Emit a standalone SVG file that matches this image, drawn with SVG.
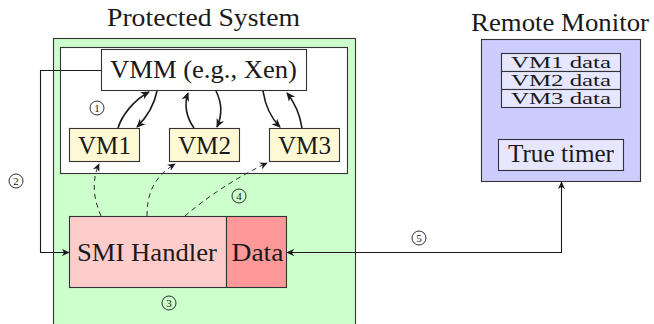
<svg xmlns="http://www.w3.org/2000/svg" width="654" height="324" viewBox="0 0 654 324">
  <style>
    text { font-family: "Liberation Serif", "DejaVu Serif", serif; fill: #1a1a1a; text-anchor: middle; }
    .t { font-size: 25px; }
    .s { font-size: 16px; }
    .n { font-size: 11px; }
    .box { stroke: #333; stroke-width: 1.1; }
    .ring { fill: none; stroke: #1a1a1a; stroke-width: 0.9; }
    .wire { fill: none; stroke: #1a1a1a; stroke-width: 1.1; }
    .ctl { fill: none; stroke: #1a1a1a; stroke-width: 1.6; }
    .dash { fill: none; stroke: #1a1a1a; stroke-width: 0.9; stroke-dasharray: 5 4; }
  </style>
  <defs>
    <marker id="head" viewBox="0 0 10 10" refX="9" refY="5" markerWidth="8" markerHeight="8" markerUnits="userSpaceOnUse" orient="auto-start-reverse">
      <path d="M0,0.5 L10,5 L0,9.5 L3,5 Z" fill="#1a1a1a"/>
    </marker>
    <marker id="headbig" viewBox="0 0 10 10" refX="9" refY="5" markerWidth="9" markerHeight="9" markerUnits="userSpaceOnUse" orient="auto">
      <path d="M0,0.5 L10,5 L0,9.5 L3,5 Z" fill="#1a1a1a"/>
    </marker>
  </defs>

  <!-- protected system -->
  <g id="protected-system">
    <text class="t" x="203.5" y="26" textLength="193" lengthAdjust="spacingAndGlyphs">Protected System</text>
    <rect class="box" x="53.5" y="38.5" width="302" height="290" fill="#ccffcc" stroke="#222"/>
    <rect class="box" x="60.5" y="47.5" width="287" height="126" fill="#ffffff" stroke="#222"/>
  </g>

  <g id="vmm">
    <rect class="box" x="101.5" y="49.5" width="205" height="41" fill="#ffffff"/>
    <text class="t" x="203.5" y="78" textLength="187" lengthAdjust="spacingAndGlyphs">VMM (e.g., Xen)</text>
  </g>

  <g id="vm1">
    <rect class="box" x="69.5" y="128.5" width="70" height="33" fill="#fff9d6"/>
    <text class="t" x="104.5" y="154" textLength="53" lengthAdjust="spacingAndGlyphs">VM1</text>
  </g>
  <g id="vm2">
    <rect class="box" x="169.5" y="128.5" width="70" height="33" fill="#fff9d6"/>
    <text class="t" x="204.5" y="154" textLength="53" lengthAdjust="spacingAndGlyphs">VM2</text>
  </g>
  <g id="vm3">
    <rect class="box" x="269.5" y="128.5" width="70" height="33" fill="#fff9d6"/>
    <text class="t" x="304.5" y="154" textLength="53" lengthAdjust="spacingAndGlyphs">VM3</text>
  </g>

  <g id="smi-handler">
    <rect class="box" x="69.5" y="216.5" width="157" height="71" fill="#ffcccc"/>
    <text class="t" x="147" y="261" textLength="140" lengthAdjust="spacingAndGlyphs">SMI Handler</text>
  </g>
  <g id="data">
    <rect class="box" x="226.5" y="216.5" width="60" height="71" fill="#ff9999"/>
    <text class="t" x="257.5" y="261" textLength="52" lengthAdjust="spacingAndGlyphs">Data</text>
  </g>

  <!-- remote monitor -->
  <g id="remote-monitor">
    <text class="t" x="560" y="31" textLength="178" lengthAdjust="spacingAndGlyphs">Remote Monitor</text>
    <rect class="box" x="481.5" y="39.5" width="159" height="142" fill="#ccccff"/>
    <rect class="box" x="501.5" y="53.5" width="119" height="18" fill="#e6e6ff"/>
    <rect class="box" x="501.5" y="71.5" width="119" height="18" fill="#e6e6ff"/>
    <rect class="box" x="501.5" y="89.5" width="119" height="18" fill="#e6e6ff"/>
    <text class="s" x="561" y="68" textLength="100" lengthAdjust="spacingAndGlyphs">VM1 data</text>
    <text class="s" x="561" y="86" textLength="100" lengthAdjust="spacingAndGlyphs">VM2 data</text>
    <text class="s" x="561" y="104" textLength="100" lengthAdjust="spacingAndGlyphs">VM3 data</text>
  </g>
  <g id="true-timer">
    <rect class="box" x="498.5" y="139.5" width="125" height="31" fill="#e6e6ff"/>
    <text class="t" x="561" y="162" textLength="106" lengthAdjust="spacingAndGlyphs">True timer</text>
  </g>

  <!-- connectors -->
  <g id="connectors">
    <!-- VMM <-> VMs control transfers -->
    <path class="ctl" d="M118,128 C122,115 134,100 149,92" marker-end="url(#headbig)"/>
    <path class="ctl" d="M157,91 C154,106 146,118 137,127" marker-end="url(#headbig)"/>
    <path class="ctl" d="M194,128 C186,117 184,104 188,93" marker-end="url(#headbig)"/>
    <path class="ctl" d="M216,91 C222,103 222,116 217,127" marker-end="url(#headbig)"/>
    <path class="ctl" d="M263,91 C265,104 270,117 280,127" marker-end="url(#headbig)"/>
    <path class="ctl" d="M302,128 C300,115 295,103 287,93" marker-end="url(#headbig)"/>

    <!-- SMI handler to VMs (dashed) -->
    <path class="dash" d="M101,216 C94,200 91,182 99,164" marker-end="url(#head)"/>
    <path class="dash" d="M147,216 C147,196 152,178 175,164" marker-end="url(#head)"/>
    <path class="dash" d="M185,216 C206,198 235,178 267,163" marker-end="url(#head)"/>

    <!-- VMM to SMI handler -->
    <path class="wire" d="M101,70.5 H40.5 V252.5 H69" marker-end="url(#head)"/>

    <!-- Data <-> remote monitor -->
    <path class="wire" d="M287,252.5 H561.5 V182" marker-start="url(#head)" marker-end="url(#head)"/>
  </g>

  <!-- step numbers -->
  <g id="steps">
    <circle class="ring" cx="97" cy="108" r="7"/><text class="n" x="97" y="111.8">1</text>
    <circle class="ring" cx="16" cy="181" r="7"/><text class="n" x="16" y="184.8">2</text>
    <circle class="ring" cx="169" cy="303" r="7"/><text class="n" x="169" y="306.8">3</text>
    <circle class="ring" cx="239" cy="196" r="7"/><text class="n" x="239" y="199.8">4</text>
    <circle class="ring" cx="419" cy="238" r="7"/><text class="n" x="419" y="241.8">5</text>
  </g>
</svg>
